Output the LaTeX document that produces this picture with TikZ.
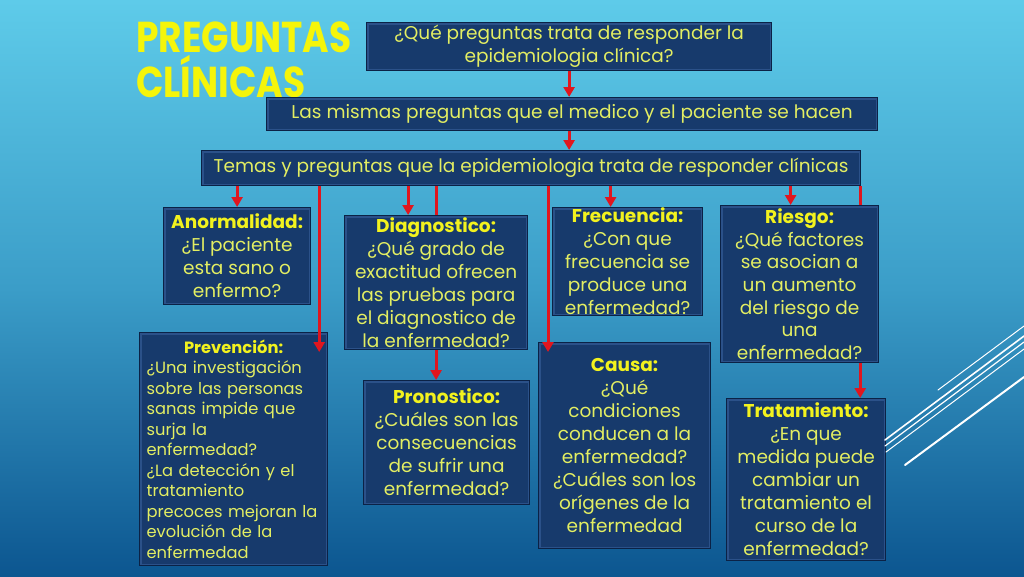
\documentclass[tikz,border=0pt]{standalone}
\usepackage{fontspec}
\usepackage{graphicx}
\setmainfont{Poppins}
\usetikzlibrary{arrows.meta,calc}
\definecolor{bgtop}{HTML}{5ECBE9}
\definecolor{bgmid}{HTML}{3B9DC8}
\definecolor{bgbot}{HTML}{0C5690}
\definecolor{boxfill}{HTML}{173A6C}
\definecolor{boxrim}{HTML}{2B5189}
\definecolor{boxedge}{HTML}{0B2246}
\definecolor{txt}{HTML}{E3EE62}
\definecolor{hdr}{HTML}{F2F21E}
\definecolor{arr}{HTML}{E0161E}
\definecolor{ttl}{HTML}{F5F50A}
\pgfdeclarelayer{bg}
\pgfdeclarelayer{back}
\pgfsetlayers{bg,back,main}
\begin{document}
\begin{tikzpicture}[x=1pt,y=-1pt,
  box/.style={draw=boxedge,line width=1.2pt,fill=boxfill,anchor=north west,inner sep=0pt,
    align=center,text=txt,font=\fontsize{18.5}{23}\selectfont,
    path picture={\draw[boxrim,line width=4pt] (path picture bounding box.south west) rectangle (path picture bounding box.north east);}},
  conn/.style={arr,line width=3pt,-{Triangle[width=11pt,length=10pt]}},
  deco/.style={white,line cap=round}]
\useasboundingbox (0,0) rectangle (1024,576);
\begin{pgfonlayer}{bg}
\shade[top color=bgtop,bottom color=bgbot,middle color=bgmid] (0,0) rectangle (1024,576);
\end{pgfonlayer}
\newcommand{\hdr}[1]{{\color{hdr}\bfseries #1}}
% title
\node[anchor=north west,inner sep=0pt,text=ttl,align=left,font=\fontsize{36}{45}\selectfont\bfseries] (title) at (136,22) {\scalebox{1}[1.2]{PREGUNTAS}\\\scalebox{1}[1.2]{CLÍNICAS}};
% boxes
\node[box,minimum width=405pt,minimum height=48pt] (Q) at (366,22) {¿Qué preguntas trata de responder la\\epidemiologia clínica?};
\node[box,minimum width=611pt,minimum height=33pt] (M) at (266,97) {Las mismas preguntas que el medico y el paciente se hacen};
\node[box,minimum width=659pt,minimum height=35pt] (T) at (201,150) {Temas y preguntas que la epidemiologia trata de responder clínicas};
\node[box,minimum width=147pt,minimum height=97pt] (A) at (163,207) {\hdr{Anormalidad:}\\¿El paciente\\esta sano o\\enfermo?};
\node[box,minimum width=183pt,minimum height=134pt] (D) at (344,215) {\hdr{Diagnostico:}\\¿Qué grado de\\exactitud ofrecen\\las pruebas para\\el diagnostico de\\la enfermedad?};
\node[box,minimum width=150pt,minimum height=108pt] (F) at (552,207) {\hdr{Frecuencia:}\\¿Con que\\frecuencia se\\produce una\\enfermedad?};
\node[box,minimum width=158pt,minimum height=157pt,font=\fontsize{18.5}{22.6}\selectfont] (R) at (720,205) {\hdr{Riesgo:}\\¿Qué factores\\se asocian a\\un aumento\\del riesgo de\\una\\enfermedad?};
\node[box,minimum width=188pt,minimum height=233pt,align=left,text width=174pt,font=\fontsize{16.3}{20.5}\selectfont] (P) at (139,332) {\hfill\hdr{Prevención:}\hfill\null\\¿Una investigación\\sobre las personas\\sanas impide que\\surja la\\enfermedad?\\¿La detección y el\\tratamiento\\precoces mejoran la\\evolución de la\\enfermedad};
\node[box,minimum width=166pt,minimum height=124pt] (Pr) at (363,380) {\hdr{Pronostico:}\\¿Cuáles son las\\consecuencias\\de sufrir una\\enfermedad?};
\node[box,minimum width=172pt,minimum height=206pt] (C) at (538,342) {\hdr{Causa:}\\¿Qué\\condiciones\\conducen a la\\enfermedad?\\¿Cuáles son los\\orígenes de la\\enfermedad};
\node[box,minimum width=159pt,minimum height=162pt] (Tr) at (726,398) {\hdr{Tratamiento:}\\¿En que\\medida puede\\cambiar un\\tratamiento el\\curso de la\\enfermedad?};
% hidden connectors (behind boxes)
\coordinate (tr) at ([xshift=-1pt]T.south east);
\begin{pgfonlayer}{back}
\draw[conn] (D.north |- T.south) -- (D.north |- Pr.north);
\draw[conn] (tr) -- (tr |- Tr.north);
\end{pgfonlayer}
% visible connectors
\draw[conn] (Q.south) -- (Q.south |- M.north);
\draw[conn] (Q.south |- M.south) -- (Q.south |- T.north);
\draw[conn] (A.north |- T.south) -- (A.north);
\coordinate (pe) at ([xshift=-9pt,yshift=-20pt]P.north east);
\draw[conn] (pe |- T.south) -- (pe);
\coordinate (de) at ([xshift=-28pt]D.north);
\draw[conn] (de |- T.south) -- (de);
\coordinate (ce) at ([xshift=10pt,yshift=-10pt]C.north west);
\draw[conn] (ce |- T.south) -- (ce);
\coordinate (fe) at ([xshift=-17pt]F.north);
\draw[conn] (fe |- T.south) -- (fe);
\coordinate (re) at ([xshift=-9pt]R.north);
\draw[conn] (re |- T.south) -- (re);
% decorative lines
\draw[deco,line width=1pt] (938,390) -- (1024,326);
\draw[deco,line width=1.6pt] (885,440) -- (1024,336);
\draw[deco,line width=1.2pt] (885,446) -- (1024,342);
\draw[deco,line width=1pt] (886,452) -- (1024,349);
\draw[deco,line width=2pt] (905,465) -- (1024,377);
\end{tikzpicture}
\end{document}
